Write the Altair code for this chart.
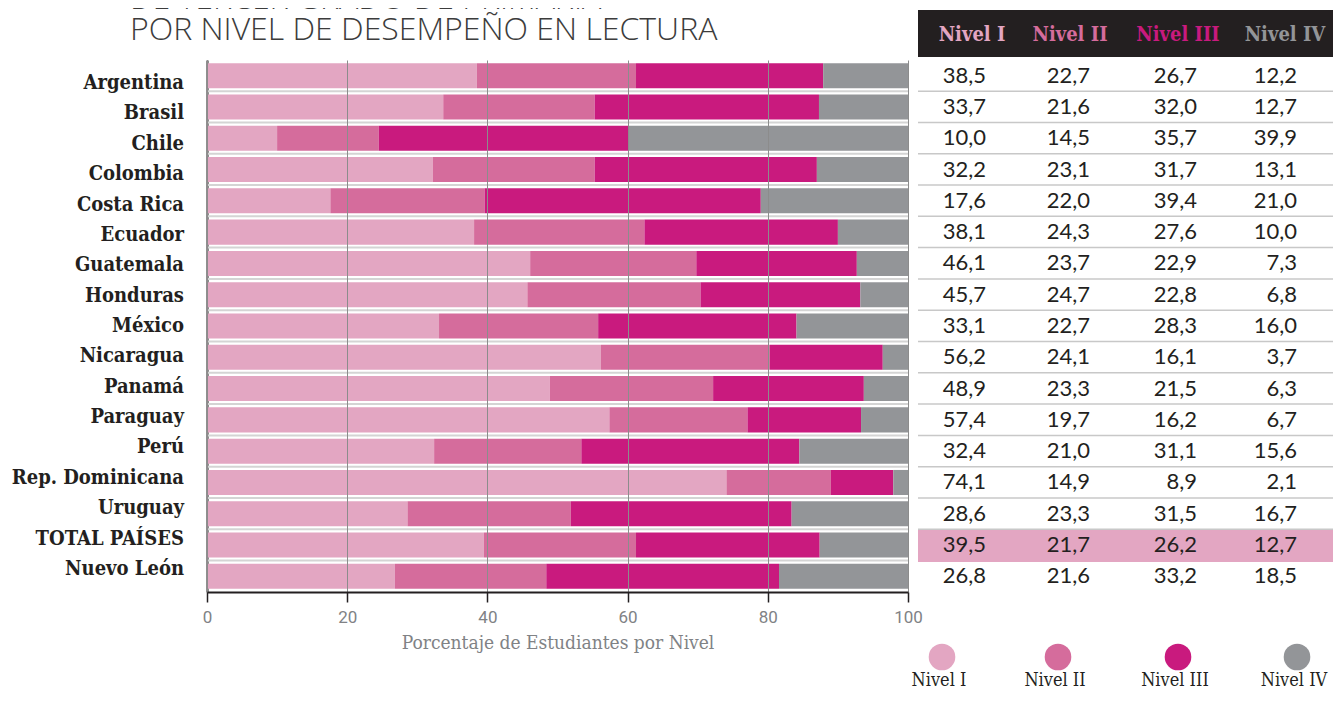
import altair as alt
import pandas as pd

countries = ["Argentina", "Brasil", "Chile", "Colombia", "Costa Rica", "Ecuador",
             "Guatemala", "Honduras", "México", "Nicaragua", "Panamá", "Paraguay",
             "Perú", "Rep. Dominicana", "Uruguay", "TOTAL PAÍSES", "Nuevo León"]
levels = ["Nivel I", "Nivel II", "Nivel III", "Nivel IV"]
nivel1 = [38.5, 33.7, 10.0, 32.2, 17.6, 38.1, 46.1, 45.7, 33.1, 56.2, 48.9, 57.4, 32.4, 74.1, 28.6, 39.5, 26.8]
nivel2 = [22.7, 21.6, 14.5, 23.1, 22.0, 24.3, 23.7, 24.7, 22.7, 24.1, 23.3, 19.7, 21.0, 14.9, 23.3, 21.7, 21.6]
nivel3 = [26.7, 32.0, 35.7, 31.7, 39.4, 27.6, 22.9, 22.8, 28.3, 16.1, 21.5, 16.2, 31.1, 8.9, 31.5, 26.2, 33.2]
nivel4 = [12.2, 12.7, 39.9, 13.1, 21.0, 10.0, 7.3, 6.8, 16.0, 3.7, 6.3, 6.7, 15.6, 2.1, 16.7, 12.7, 18.5]
colors = ["#e3a6c2", "#d56c9c", "#c91a7e", "#939598"]
title_lines = ["DE TERCER GRADO DE PRIMARIA", "POR NIVEL DE DESEMPEÑO EN LECTURA"]
x_ticks = [0, 20, 40, 60, 80, 100]
x_title = "Porcentaje de Estudiantes por Nivel"
highlight = "TOTAL PAÍSES"

DARK = "#231f20"
SERIF = "DejaVu Serif Condensed"

rows = []
for i, (lvl, vals) in enumerate(zip(levels, [nivel1, nivel2, nivel3, nivel4])):
    for c, v in zip(countries, vals):
        rows.append({"country": c, "level": lvl, "order": i, "value": v,
                     "label": f"{v:.1f}".replace(".", ",")})
df = pd.DataFrame(rows)
cdf = pd.DataFrame({"country": countries})
one = pd.DataFrame({"k": [0]})

W, H = 701, 532


def band_scale():
    return alt.Scale(domain=countries, paddingInner=0.2, paddingOuter=0.1)


def Y():
    return alt.Y("country:N", scale=band_scale(), axis=None)


bars = alt.Chart(df).mark_bar(clip=True).encode(
    x=alt.X("value:Q", stack="zero", scale=alt.Scale(domain=[0, 100], nice=False),
            axis=alt.Axis(values=x_ticks, grid=True, gridColor="#8c8c8c", gridWidth=1,
                          zindex=1, domainColor=DARK, domainWidth=2, tickColor=DARK,
                          tickWidth=1.5, tickSize=10, labelFont="Roboto", labelFontSize=17,
                          labelColor="#808285", labelPadding=7, labelFlush=False,
                          title=x_title, titleFont=SERIF, titleFontSize=19,
                          titleFontWeight="normal", titleColor="#808285", titlePadding=8)),
    y=alt.Y("country:N", scale=band_scale(),
            axis=alt.Axis(labels=False, ticks=False, domainColor=DARK, domainWidth=2,
                          title=None, grid=False)),
    color=alt.Color("level:N", scale=alt.Scale(domain=levels, range=colors), legend=None),
    order=alt.Order("order:Q"),
)

sep_bars = alt.Chart(pd.DataFrame({"country": countries[:-1]})).mark_rule(
    yOffset=15.5, color="#d4d4d4", strokeWidth=2).encode(
    y=Y(), x=alt.value(0), x2=alt.value(W))

sep_table = alt.Chart(pd.DataFrame({"country": countries[:-1]})).mark_rule(
    yOffset=15.5, color="#c8c8c8", strokeWidth=1.5).encode(
    y=Y(), x=alt.value(711), x2=alt.value(1126))

hl = alt.Chart(pd.DataFrame({"country": [highlight]})).mark_rule(
    strokeWidth=32, color=colors[0], strokeCap="butt", yOffset=1).encode(
    y=Y(), x=alt.value(711), x2=alt.value(1126))

header = alt.Chart(one).mark_rect(color=DARK).encode(
    x=alt.value(711), x2=alt.value(1126), y=alt.value(-50), y2=alt.value(-3))

layers = [bars, sep_bars, sep_table, hl, header]

head_x = [765, 863, 971, 1078]
col_right = [779, 883, 990, 1090]
leg_x = [735, 851, 971, 1090]
for i, lvl in enumerate(levels):
    layers.append(alt.Chart(one).mark_text(
        font=SERIF, fontWeight="bold", fontSize=20, baseline="middle", align="center").encode(
        x=alt.value(head_x[i]), y=alt.value(-25), text=alt.value(lvl),
        color=alt.value(colors[i])))
    layers.append(alt.Chart(df[df.level == lvl]).mark_text(
        font="Lato", fontSize=22, baseline="middle", align="right", color=DARK).encode(
        x=alt.value(col_right[i]), y=Y(), text="label:N"))
    layers.append(alt.Chart(one).mark_point(
        filled=True, shape="circle", size=707, opacity=1).encode(
        x=alt.value(leg_x[i]), y=alt.value(597), color=alt.value(colors[i])))
    layers.append(alt.Chart(one).mark_text(
        font=SERIF, fontSize=18, baseline="middle", align="center", color=DARK).encode(
        x=alt.value(leg_x[i] - 3), y=alt.value(621), text=alt.value(lvl)))

labels = alt.Chart(cdf).mark_text(
    align="right", baseline="middle", font=SERIF, fontWeight="bold", fontSize=20,
    color=DARK).encode(
    x=alt.value(-23),
    y=alt.Y("country:N", scale=alt.Scale(type="point", domain=countries, padding=0.76), axis=None),
    text="country:N")

title = alt.Chart(one).mark_text(
    align="left", baseline="alphabetic", font="Open Sans", fontWeight=300, fontSize=32,
    color="#3c3c3c").encode(
    x=alt.value(-77), y=alt.value(-20), text=alt.value(title_lines[1]))

title0 = alt.Chart(one).mark_text(
    align="left", baseline="alphabetic", font="Open Sans", fontWeight=300, fontSize=32,
    color="#3c3c3c").encode(
    x=alt.value(-77), y=alt.value(-51), text=alt.value(title_lines[0]))

layers += [labels, title0, title]

chart = alt.layer(*layers).resolve_scale(y="independent").properties(
    width=W, height=H,
    padding={"left": 199, "top": 52, "right": 426, "bottom": 100},
    autosize=alt.AutoSizeParams(type="none"),
).configure_view(stroke=None)

chart.save("out.html", embed_options={"renderer": "svg", "actions": False})
